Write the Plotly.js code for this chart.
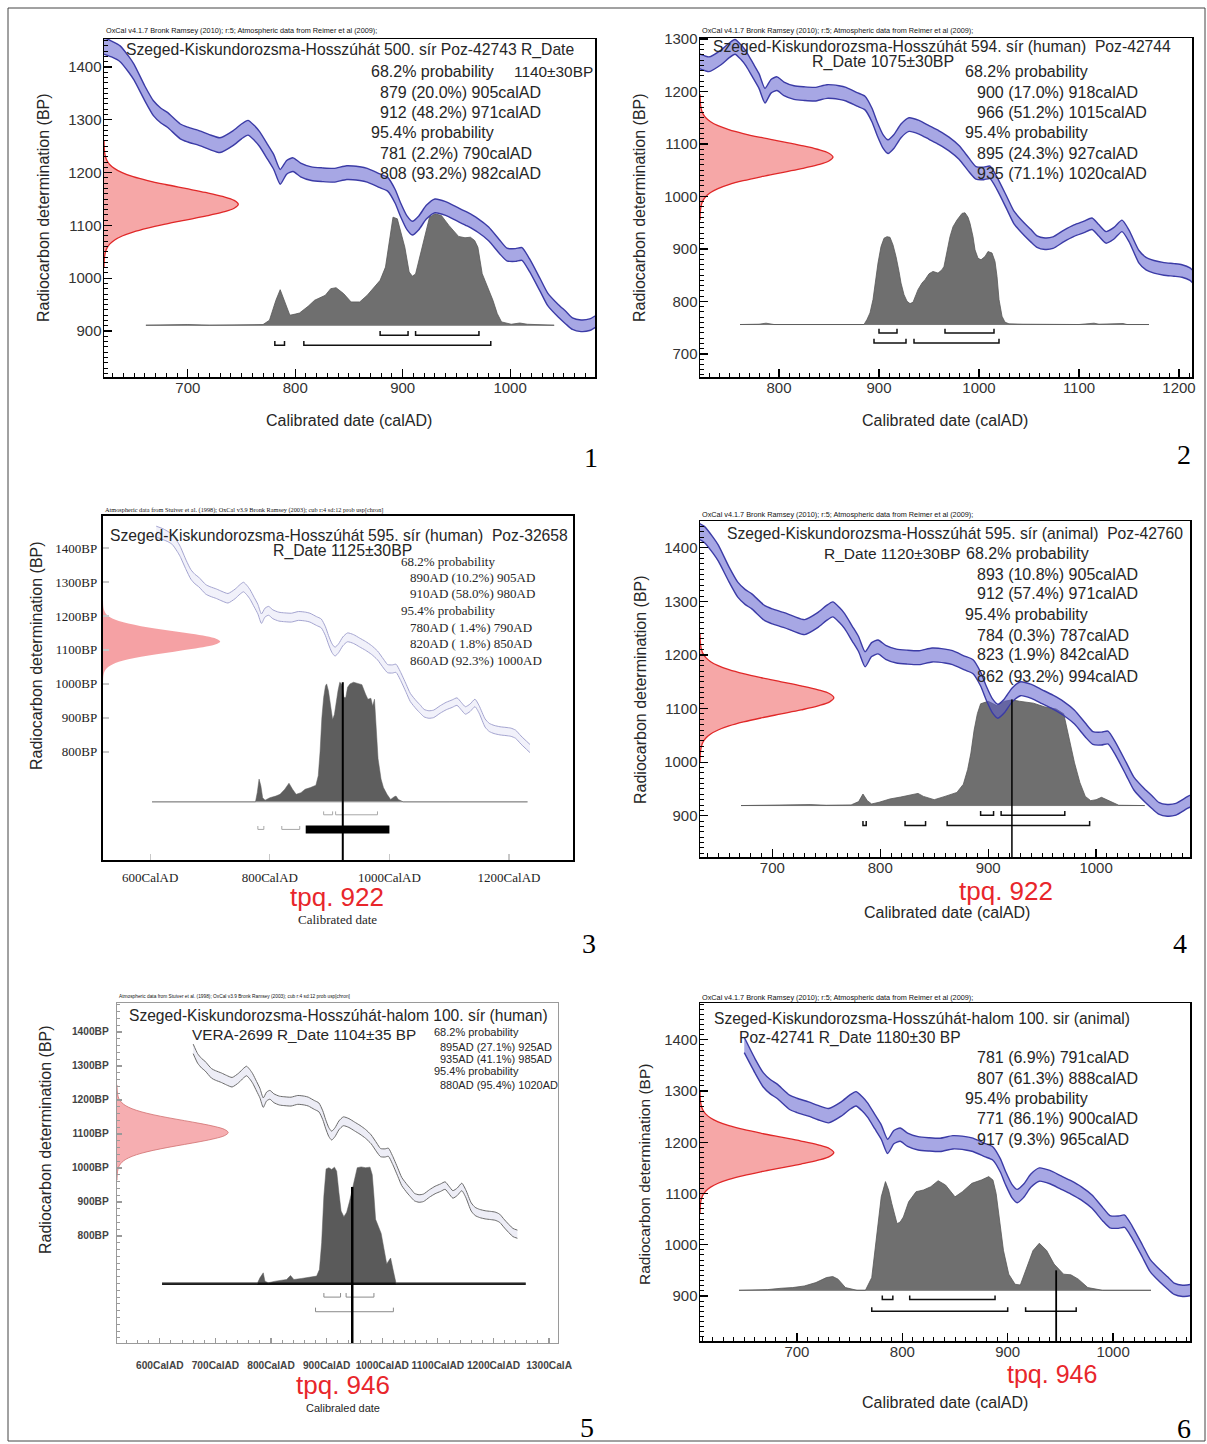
<!DOCTYPE html>
<html><head><meta charset="utf-8">
<script src="https://cdn.plot.ly/plotly-3.0.1.min.js"></script>
<style>html,body{margin:0;padding:0;background:#fff;}#chart{width:1207px;height:1444px;}</style>
</head><body><div id="chart"></div>
<script>
// ================= DATA =================
// Calibration curve (cal AD -> radiocarbon BP)
const calYears = [600,610,622,630,637,645,650,660,668,675,681,693,700,711,720,730,742,750,756,762,767,774,780,786,792,798,805,815,825,836,848,860,867,878,886,893,898,904,909,915,922,930,940,950,960,970,980,990,997,1005,1011,1018,1028,1035,1045,1052,1058,1066,1074,1085,1095,1105,1113,1120,1127,1135,1143,1150,1160,1167,1175,1185,1195,1203,1211,1220,1235,1243];
const calBP = [1458,1448,1440,1433,1425,1405,1390,1350,1322,1308,1300,1278,1272,1265,1258,1252,1265,1278,1285,1275,1263,1240,1220,1192,1210,1215,1205,1198,1196,1195,1200,1198,1195,1185,1178,1155,1130,1105,1095,1105,1125,1137,1132,1122,1112,1100,1084,1060,1045,1044,1046,1025,987,960,938,925,914,910,912,925,935,942,948,935,922,930,944,925,885,872,866,862,860,858,852,835,810,805];
const calErr = [16,16,16,15,15,15,15,14,14,14,14,14,14,14,14,14,14,14,14,14,14,14,14,14,13,13,13,13,13,13,13,13,13,13,13,13,13,13,13,13,13,13,13,13,13,13,13,13,12,12,12,12,12,12,12,12,11,11,11,11,11,11,11,11,11,11,11,11,12,12,12,12,12,12,12,12,12,12];

// Radiocarbon measurement shape (relative density at offsets in sigma)
const normZ = [-4,-3.75,-3.5,-3.25,-3,-2.75,-2.5,-2.25,-2,-1.75,-1.5,-1.25,-1,-0.75,-0.5,-0.25,0,0.25,0.5,0.75,1,1.25,1.5,1.75,2,2.25,2.5,2.75,3,3.25,3.5,3.75,4];
const normDens = [0.0003,0.0009,0.0022,0.0051,0.0111,0.0228,0.0439,0.0796,0.1353,0.2163,0.3247,0.4578,0.6065,0.7548,0.8825,0.9692,1,0.9692,0.8825,0.7548,0.6065,0.4578,0.3247,0.2163,0.1353,0.0796,0.0439,0.0228,0.0111,0.0051,0.0022,0.0009,0.0003];

// Measured dates (BP) and errors
const dates = [1140,1075,1125,1120,1104,1180];
const dateErrs = [30,30,30,30,35,30];

// Posterior probability distributions (cal AD, relative probability)
const p1Years = [661,690,700,720,760,770,776,782,786,790,795,800,804,812,818,828,833,838,845,852,860,867,872,879,884,888,891,895,899,902,906,909,912,915,918,922,925,930,936,943,952,958,963,967,970,974,979,984,988,992,1001,1009,1016,1024,1041];
const p1Prob = [0,0.003,0.006,0,0,0.006,0.045,0.224,0.319,0.224,0.09,0.1,0.11,0.17,0.224,0.269,0.328,0.337,0.284,0.209,0.209,0.269,0.328,0.403,0.522,0.76,0.97,0.955,0.82,0.7,0.478,0.44,0.46,0.582,0.7,0.85,0.97,1,0.985,0.896,0.797,0.785,0.79,0.76,0.7,0.463,0.343,0.224,0.105,0.03,0.009,0.02,0.009,0.006,0];
const p2Years = [761,780,787,795,810,885,888,891,894,896,899,902,905,908,911,914,917,920,922,925,928,931,934,937,939,943,946,950,954,959,963,965,968,971,974,978,983,986,989,991,994,996,999,1002,1006,1009,1013,1016,1018,1020,1023,1026,1030,1044,1100,1110,1115,1120,1140,1144,1148,1170];
const p2Prob = [0,0.003,0.012,0,0,0,0.045,0.104,0.223,0.371,0.55,0.697,0.772,0.786,0.78,0.712,0.608,0.475,0.371,0.267,0.208,0.187,0.199,0.267,0.312,0.371,0.401,0.454,0.475,0.46,0.49,0.52,0.668,0.786,0.875,0.935,0.994,1,0.96,0.905,0.786,0.668,0.593,0.579,0.608,0.653,0.64,0.564,0.43,0.223,0.074,0.021,0.006,0.003,0,0.006,0.012,0.003,0.003,0.009,0,0];
const p3Years = [603,700,776,779,782,785,788,792,800,810,817,825,832,838,844,852,859,868,877,881,884,887,890,893,895,898,901,905,908,911,914,917,920,924,927,930,934,940,948,954,960,964,969,972,975,978,981,986,990,996,1002,1008,1011,1015,1023,1100,1231];
const p3Prob = [0,0,0,0.078,0.188,0.132,0.034,0.014,0.034,0.048,0.062,0.104,0.154,0.104,0.062,0.076,0.104,0.118,0.137,0.216,0.412,0.692,0.86,0.955,0.972,0.916,0.804,0.678,0.72,0.832,0.916,0.986,0.972,0.86,0.86,0.944,0.972,0.986,0.978,0.966,0.888,0.846,0.854,0.79,0.846,0.608,0.356,0.188,0.118,0.062,0.02,0.042,0.048,0.02,0,0,0];
const p4Years = [671,720,735,750,773,780,784,788,792,799,809,819,830,835,840,850,860,871,877,881,884,887,890,893,900,908,915,922,929,942,952,963,970,975,980,985,990,995,1000,1005,1010,1014,1021,1045];
const p4Prob = [0,0.006,0.009,0.003,0.006,0.037,0.108,0.046,0.015,0.031,0.062,0.08,0.108,0.114,0.086,0.055,0.086,0.123,0.2,0.338,0.492,0.708,0.862,0.954,0.978,0.938,0.978,0.991,0.978,0.96,0.926,0.905,0.86,0.631,0.4,0.215,0.086,0.046,0.055,0.077,0.055,0.031,0.003,0];
const p5Years = [604,775,780,786,789,795,808,820,828,835,841,855,870,882,887,891,895,899,904,909,914,918,922,926,931,936,941,946,951,955,962,970,978,982,985,988,993,998,1003,1008,1012,1015,1019,1025,1258];
const p5Prob = [0,0,0.051,0.094,0.023,0.009,0.023,0.031,0.037,0.071,0.037,0.046,0.06,0.066,0.123,0.35,0.75,0.98,0.99,0.975,0.995,0.96,0.78,0.62,0.573,0.61,0.7,0.8,0.9,0.99,0.997,0.99,0.995,0.93,0.75,0.55,0.49,0.43,0.3,0.17,0.2,0.22,0.13,0,0];
const p6Years = [645,660,672,685,696,707,718,728,734,739,746,757,765,771,776,780,784,787,790,795,798,801,806,813,820,827,834,841,850,857,866,875,882,886,889,891,896,901,907,912,917,924,930,937,944,953,960,967,976,990,1036];
const p6Prob = [0,0.003,0.006,0.018,0.024,0.038,0.068,0.112,0.121,0.098,0.024,0,0,0.112,0.527,0.822,0.956,0.882,0.763,0.586,0.601,0.645,0.778,0.867,0.882,0.911,0.964,0.926,0.822,0.867,0.941,0.97,1,0.97,0.852,0.704,0.349,0.142,0.053,0.047,0.172,0.349,0.414,0.349,0.231,0.142,0.136,0.098,0.024,0,0];

// Probability ranges (cal AD)
const p1R68 = [[879,905],[912,971]], p1R95 = [[781,790],[808,982]];
const p2R68 = [[900,918],[966,1015]], p2R95 = [[895,927],[935,1020]];
const p3R68 = [[890,905],[910,980]], p3R95 = [[780,790],[820,850],[860,1000]];
const p4R68 = [[893,905],[912,971]], p4R95 = [[784,787],[823,842],[862,994]];
const p5R68 = [[895,925],[935,985]], p5R95 = [[880,1020]];
const p6R68 = [[781,791],[807,888]], p6R95 = [[771,900],[917,965]];

// terminus post quem
const tpqYears = [null,null,922,922,946,946];

// Tick values / labels
const xTicksA = [700,800,900,1000], yTicksA = [900,1000,1100,1200,1300,1400];
const xTicks2 = [800,900,1000,1100,1200], yTicks2 = [700,800,900,1000,1100,1200,1300];
const xTicks3 = [600,800,1000,1200], yTicks35 = [800,900,1000,1100,1200,1300,1400];
const xTicks5 = [600,700,800,900,1000,1100,1200,1300];
const xLabels3 = ['600CalAD','800CalAD','1000CalAD','1200CalAD'];
const xLabels5 = ['600CalAD','700CalAD','800CalAD','900CalAD','1000CalAD','1100CalAD','1200CalAD','1300CalA'];
const yLabels35 = ['800BP','900BP','1000BP','1100BP','1200BP','1300BP','1400BP'];

// ================= LAYOUT / STYLE =================
const W=1207,H=1444;
const SANS='Liberation Sans, Arial, sans-serif', SERIF='Liberation Serif, Times New Roman, serif';
const STY = {
  v4:{axLine:'#000',axW:1.5,tickC:'#000',tickLen:8,minor:10,minorY:10,tfont:{family:SANS,size:15,color:'#333'},xStand:-4,yStand:-2,
      bandFill:'rgba(95,95,205,0.55)',bandLine:'#3b3ba6',bandLW:1.4,redFill:'rgba(238,80,80,0.5)',redLine:'#e02828',redLW:1.3,
      postFill:'#6f6f6f',postLine:'#585858',postLW:0.8,baseC:'#777',baseW:1,brC:'#111',brW:1.5},
  v3:{axLine:'#000',axW:2.2,tickC:'#c8c8c8',tickLen:6,minor:null,minorY:null,tfont:{family:SERIF,size:13,color:'#222'},xStand:4,yStand:1,
      bandFill:'rgba(215,215,240,0.35)',bandLine:'#a4a4d0',bandLW:1,redFill:'rgba(240,110,115,0.65)',redLine:'rgba(0,0,0,0)',redLW:0,
      postFill:'#5e5e5e',postLine:'#5e5e5e',postLW:0.5,baseC:'#9a9a9a',baseW:1,brC:'#a8a8a8',brW:1},
  v3b:{axLine:'#9a9a9a',axW:1.2,tickC:'#9a9a9a',tickLen:5,minor:20,minorY:20,tfont:{family:SANS,size:10.2,color:'#444',weight:'bold'},xStand:13,yStand:5,
      bandFill:'rgba(225,225,240,0.6)',bandLine:'#6a6a6a',bandLW:1,redFill:'rgba(240,120,125,0.6)',redLine:'#d07070',redLW:0.8,
      postFill:'#5a5a5a',postLine:'#5a5a5a',postLW:0.5,baseC:'#111',baseW:2.5,brC:'#8a8a8a',brW:1}
};

const panels = [
 {box:[104,39,595,377], xr:[622,1079], yr:[813,1453], xt:xTicksA, yt:yTicksA, st:'v4', curve:[600,1095], redW:125,
  post:[p1Years,p1Prob], base:911, hgt:211, r68:p1R68, r95:p1R95, l68:892, l95:873, tk:8},
 {box:[700,38,1192,377], xr:[721,1213], yr:[656,1302], xt:xTicks2, yt:yTicks2, st:'v4', curve:[700,1243], redW:133,
  post:[p2Years,p2Prob], base:756, hgt:213, r68:p2R68, r95:p2R95, l68:740, l95:721, tk:8},
 {box:[103,516,573,860], xr:[521,1307], yr:[482,1494], xt:xTicks3, yt:yTicks35, xl:xLabels3, yl:yLabels35, st:'v3', curve:[610,1235], redW:196,
  post:[p3Years,p3Prob], base:653, hgt:357, r68:p3R68, r95:p3R95, l68:615, l95:572, tk:10, thickLast95:true, tpqTop:1005, tpqW:2},
 {box:[700,521,1190,857], xr:[633,1087], yr:[823,1450], xt:xTicksA, yt:yTicksA, st:'v4', curve:[600,1100], redW:124,
  post:[p4Years,p4Prob], base:919, hgt:199, r68:p4R68, r95:p4R95, l68:901, l95:882, tk:8, tpqTop:1117, tpqW:1.5},
 {box:[117,1003,558,1343], xr:[523,1316], yr:[485,1485], xt:xTicks5, yt:yTicks35, xl:xLabels5, yl:yLabels35, st:'v3b', curve:[660,1243], redW:200,
  post:[p5Years,p5Prob], base:659, hgt:345, r68:p5R68, r95:p5R95, l68:620, l95:577, tk:12, tpqTop:944, tpqW:2.5},
 {box:[700,1003,1190,1341], xr:[608,1073], yr:[812,1472], xt:xTicksA, yt:yTicksA, st:'v4', curve:[650,1095], redW:127,
  post:[p6Years,p6Prob], base:911, hgt:222, r68:p6R68, r95:p6R95, l68:893, l95:870, tk:8, tpqTop:950, tpqW:1.8}
];

const traces=[];
const layout={width:W,height:H,margin:{l:0,r:0,t:0,b:0},paper_bgcolor:'#fff',plot_bgcolor:'#fff',showlegend:false,annotations:[],shapes:[]};

function bracketXY(ranges,lvl,tk){const x=[],y=[];ranges.forEach(r=>{x.push(r[0],r[0],r[1],r[1],null);y.push(lvl+tk,lvl,lvl,lvl+tk,null);});return {x,y};}

panels.forEach((p,i)=>{
  const n=i+1, sx=n===1?'':String(n), xa='x'+sx, ya='y'+sx, S=STY[p.st];
  const [L,T,R,B]=p.box;
  const common={showgrid:false,zeroline:false,showline:true,mirror:true,linecolor:S.axLine,linewidth:S.axW,
    ticks:'inside',ticklen:S.tickLen,tickwidth:1.2,tickcolor:S.tickC,tickfont:S.tfont,fixedrange:true,tickangle:0};
  const xaObj=Object.assign({},common,{domain:[L/W,R/W],range:p.xr,anchor:ya,tickmode:'array',tickvals:p.xt,ticktext:p.xl||p.xt.map(String),ticklabelstandoff:S.xStand});
  const yaObj=Object.assign({},common,{domain:[1-B/H,1-T/H],range:p.yr,anchor:xa,tickmode:'array',tickvals:p.yt,ticktext:p.yl||p.yt.map(String),ticklabelstandoff:S.yStand});
  if(S.minor){xaObj.minor={tickmode:'linear',tick0:0,dtick:S.minor,ticks:'inside',ticklen:Math.round(S.tickLen/2),tickcolor:S.tickC,tickwidth:1,showgrid:false};}
  if(S.minorY){yaObj.minor={tickmode:'linear',tick0:0,dtick:S.minorY,ticks:'inside',ticklen:Math.round(S.tickLen/2),tickcolor:S.tickC,tickwidth:1,showgrid:false};}
  layout['xaxis'+sx]=xaObj; layout['yaxis'+sx]=yaObj;

  // red measurement distribution
  traces.push({x:normDens.map(d=>p.xr[0]+d*p.redW), y:normZ.map(z=>dates[i]+z*dateErrs[i]), xaxis:xa,yaxis:ya,
    mode:'lines',fill:'tozerox',fillcolor:S.redFill,line:{color:S.redLine,width:S.redLW,shape:'spline'},hoverinfo:'skip'});
  // posterior baseline + distribution
  const yrs=p.post[0], pr=p.post[1];
  traces.push({x:[yrs[0],yrs[yrs.length-1]],y:[p.base,p.base],xaxis:xa,yaxis:ya,mode:'lines',line:{color:S.baseC,width:S.baseW},hoverinfo:'skip'});
  traces.push({x:yrs,y:pr.map(v=>p.base+v*p.hgt),xaxis:xa,yaxis:ya,mode:'lines',fill:'tonexty',fillcolor:S.postFill,
    line:{color:S.postLine,width:S.postLW},hoverinfo:'skip'});
  // calibration curve band
  const cy=[],lo=[],hi=[];
  calYears.forEach((yv,k)=>{ if(yv>=p.curve[0]&&yv<=p.curve[1]){cy.push(yv);lo.push(calBP[k]-calErr[k]);hi.push(calBP[k]+calErr[k]);} });
  traces.push({x:cy,y:lo,xaxis:xa,yaxis:ya,mode:'lines',line:{color:S.bandLine,width:S.bandLW,shape:'spline',smoothing:0.6},hoverinfo:'skip'});
  traces.push({x:cy,y:hi,xaxis:xa,yaxis:ya,mode:'lines',fill:'tonexty',fillcolor:S.bandFill,line:{color:S.bandLine,width:S.bandLW,shape:'spline',smoothing:0.6},hoverinfo:'skip'});
  // range brackets
  const r95=p.thickLast95?p.r95.slice(0,-1):p.r95;
  const b68=bracketXY(p.r68,p.l68,p.tk), b95=bracketXY(r95,p.l95,p.tk);
  traces.push({x:b68.x.concat(b95.x),y:b68.y.concat(b95.y),xaxis:xa,yaxis:ya,mode:'lines',line:{color:S.brC,width:S.brW},hoverinfo:'skip',connectgaps:false});
  if(p.thickLast95){const r=p.r95[p.r95.length-1];
    traces.push({x:[r[0],r[1]],y:[p.l95,p.l95],xaxis:xa,yaxis:ya,mode:'lines',line:{color:'#000',width:8},hoverinfo:'skip'});}
  // tpq line
  if(tpqYears[i]!==null){
    traces.push({x:[tpqYears[i],tpqYears[i]],y:[p.tpqTop,p.yr[0]],xaxis:xa,yaxis:ya,mode:'lines',line:{color:'#000',width:p.tpqW},hoverinfo:'skip'});
  }
});

// ================= TEXT =================
function A(text,x,y,size,o){o=o||{};return {xref:'paper',yref:'paper',x:x/W,y:1-y/H,text:text,showarrow:false,
  xanchor:o.anchor||'left',yanchor:'middle',textangle:o.angle||0,font:{family:o.family||SANS,size:size,color:o.color||'#262626'}};}
const HDR4='OxCal v4.1.7 Bronk Ramsey (2010); r:5; Atmospheric data from Reimer et al (2009);';
const HDR3='Atmospheric data from Stuiver et al. (1998); OxCal v3.9 Bronk Ramsey (2003); cub r:4 sd:12 prob usp[chron]';
const YT='Radiocarbon determination (BP)', XT='Calibrated date (calAD)', RED='#e8262b', NB='\u00a0';
const ann=layout.annotations;
const HC={color:'#111'};
// panel 1
ann.push(A(HDR4,104,31,7.3,HC),A('Szeged-Kiskundorozsma-Hosszúhát 500. sír Poz-42743 R_Date',124,50,15.7),
 A('68.2% probability',369,72,16),A('1140±30BP',512,71,15.4),A('879 (20.0%) 905calAD',378,92,16),A('912 (48.2%) 971calAD',378,113,16),
 A('95.4% probability',369,133,16),A('781 (2.2%) 790calAD',378,154,16),A('808 (93.2%) 982calAD',378,174,16),
 A(XT,349,420,16,{anchor:'center'}),A(YT,44,208,16,{anchor:'center',angle:-90}),A('1',591,457,28,{anchor:'center',family:SERIF,color:'#000'}));
// panel 2
ann.push(A(HDR4,700,31,7.3,HC),A('Szeged-Kiskundorozsma-Hosszúhát 594. sír (human)'+NB+' Poz-42744',711,46,15.7),A('R_Date 1075±30BP',810,62,16),
 A('68.2% probability',963,72,16),A('900 (17.0%) 918calAD',975,92,16),A('966 (51.2%) 1015calAD',975,113,16),
 A('95.4% probability',963,133,16),A('895 (24.3%) 927calAD',975,154,16),A('935 (71.1%) 1020calAD',975,174,16),
 A(XT,945,420,16,{anchor:'center'}),A(YT,640,208,16,{anchor:'center',angle:-90}),A('2',1184,455,28,{anchor:'center',family:SERIF,color:'#000'}));
// panel 3
ann.push(A(HDR3,103,510,6.3,{family:SERIF,color:'#111'}),A('Szeged-Kiskundorozsma-Hosszúhát 595. sír (human)'+NB+' Poz-32658',108,535,15.7),
 A('R_Date 1125±30BP',342,551,15.8,{anchor:'center'}),
 A('68.2% probability',399,561,13,{family:SERIF}),A('890AD (10.2%) 905AD',408,577,13,{family:SERIF}),A('910AD (58.0%) 980AD',408,594,13,{family:SERIF}),
 A('95.4% probability',399,610,13,{family:SERIF}),A('780AD ( 1.4%) 790AD',408,627,13,{family:SERIF}),A('820AD ( 1.8%) 850AD',408,643,13,{family:SERIF}),
 A('860AD (92.3%) 1000AD',408,660,13,{family:SERIF}),
 A('tpq. 922',337,897,26,{anchor:'center',color:RED}),A('Calibrated date',337,919,13,{anchor:'center',family:SERIF}),
 A(YT,36,656,16,{anchor:'center',angle:-90}),A('3',589,943,28,{anchor:'center',family:SERIF,color:'#000'}));
// panel 4
ann.push(A(HDR4,700,514,7.3,HC),A('Szeged-Kiskundorozsma-Hosszúhát 595. sír (animal)'+NB+' Poz-42760',725,533,15.7),A('R_Date 1120±30BP',822,553,15.5),
 A('68.2% probability',964,553,16),A('893 (10.8%) 905calAD',975,574,16),A('912 (57.4%) 971calAD',975,594,16),
 A('95.4% probability',963,614,16),A('784 (0.3%) 787calAD',975,635,16),A('823 (1.9%) 842calAD',975,655,16),A('862 (93.2%) 994calAD',975,676,16),
 A('tpq. 922',1006,891,26,{anchor:'center',color:RED}),A(XT,947,912,16,{anchor:'center'}),
 A(YT,640,690,16,{anchor:'center',angle:-90}),A('4',1180,943,28,{anchor:'center',family:SERIF,color:'#000'}));
// panel 5
ann.push(A(HDR3,117,996,4.8,HC),A('Szeged-Kiskundorozsma-Hosszúhát-halom 100. sír (human)',127,1015,15.6),A('VERA-2699 R_Date 1104±35 BP',190,1034,15.3),
 A('68.2% probability',432,1032,11),A('895AD (27.1%) 925AD',438,1047,11),A('935AD (41.1%) 985AD',438,1059,11),
 A('95.4% probability',432,1071,11),A('880AD (95.4%) 1020AD',438,1085,11),
 A('tpq. 946',343,1385,26,{anchor:'center',color:RED}),A('Calibraled date',343,1408,11,{anchor:'center'}),
 A(YT,45,1140,16,{anchor:'center',angle:-90}),A('5',587,1427,28,{anchor:'center',family:SERIF,color:'#000'}));
// panel 6
ann.push(A(HDR4,700,997,7.3,HC),A('Szeged-Kiskundorozsma-Hosszúhát-halom 100. sir (animal)',712,1018,15.6),A('Poz-42741 R_Date 1180±30 BP',737,1038,15.6),
 A('781 (6.9%) 791calAD',975,1057,16),A('807 (61.3%) 888calAD',975,1078,16),A('95.4% probability',963,1098,16),
 A('771 (86.1%) 900calAD',975,1118,16),A('917 (9.3%) 965calAD',975,1139,16),
 A('tpq. 946',1052,1374,25,{anchor:'center',color:RED}),A(XT,945,1402,16,{anchor:'center'}),
 A(YT,644,1175,15.5,{anchor:'center',angle:-90}),A('6',1184,1428,28,{anchor:'center',family:SERIF,color:'#000'}));

// outer frame
layout.shapes.push({type:'rect',xref:'paper',yref:'paper',x0:8/W,x1:1205/W,y0:1-1441/H,y1:1-8/H,line:{color:'#444',width:1},layer:'above'});

Plotly.newPlot('chart',traces,layout,{staticPlot:true,displayModeBar:false});
</script>
</body></html>
